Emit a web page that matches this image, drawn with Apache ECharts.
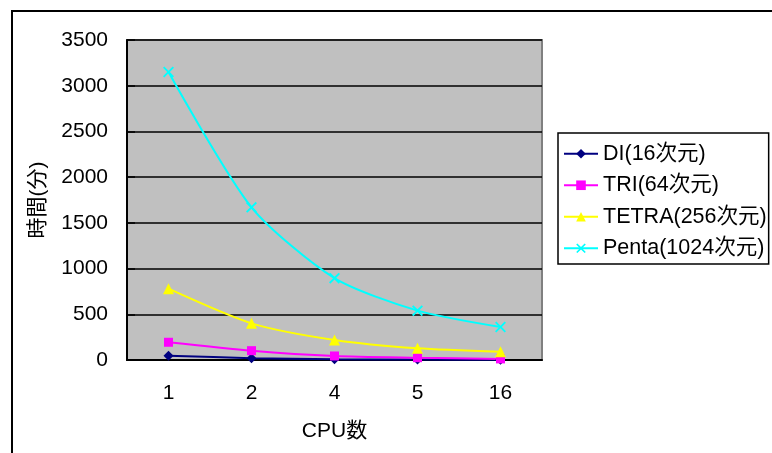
<!DOCTYPE html>
<html>
<head>
<meta charset="utf-8">
<script src="https://cdn.jsdelivr.net/npm/echarts@6/dist/echarts.min.js"></script>
<style>
html,body{margin:0;padding:0;background:#fff;}
#c{width:772px;height:453px;}
</style>
</head>
<body>
<div id="c"></div>
<script>
const categories = ['1', '2', '4', '5', '16'];
const seriesNames = ['DI(16次元)', 'TRI(64次元)', 'TETRA(256次元)', 'Penta(1024次元)'];
const diValues = [47, 20, 8, 5, 3];
const triValues = [194, 102, 44, 25, 12];
const tetraValues = [780, 401, 219, 128, 91];
const pentaValues = [3150, 1670, 895, 540, 361];
const yTicks = { min: 0, max: 3500, interval: 500 };

const FONT = '"Liberation Sans", Arial, "Noto Sans CJK JP", sans-serif';
const X_PATH = 'path://M0,1.2L1.2,0L5,3.8L8.8,0L10,1.2L6.2,5L10,8.8L8.8,10L5,6.2L1.2,10L0,8.8L3.8,5Z';

const chart = echarts.init(document.getElementById('c'), null, { renderer: 'canvas' });

function mk(name, data, color, symbol, size) {
  return {
    name: name,
    type: 'line',
    data: data,
    smooth: 0.25,
    symbol: symbol,
    symbolSize: size,
    showSymbol: true,
    lineStyle: { color: color, width: 2 },
    itemStyle: { color: color },
    emphasis: { disabled: true },
    animation: false
  };
}

chart.setOption({
  backgroundColor: '#ffffff',
  animation: false,
  textStyle: { fontFamily: FONT },
  graphic: [{
    type: 'rect',
    z: -10,
    shape: { x: 12, y: 11, width: 800, height: 500 },
    style: { fill: 'none', stroke: '#000', lineWidth: 2 }
  }],
  grid: {
    left: 127, top: 40, width: 415, height: 320,
    show: true,
    backgroundColor: '#C0C0C0',
    borderColor: '#808080',
    borderWidth: 2
  },
  legend: {
    orient: 'vertical',
    left: 558, top: 133,
    padding: [10, 2, 5, 5],
    itemWidth: 34, itemHeight: 12,
    itemGap: 10,
    borderColor: '#000', borderWidth: 1.5,
    backgroundColor: '#fff',
    textStyle: { fontSize: 21.5, color: '#000', fontFamily: FONT },
    data: seriesNames
  },
  xAxis: {
    type: 'category',
    data: categories,
    boundaryGap: true,
    name: 'CPU数',
    nameLocation: 'middle',
    nameGap: 61,
    nameTextStyle: { fontSize: 21, color: '#000', fontFamily: FONT },
    axisLine: { lineStyle: { color: '#000', width: 2 } },
    axisTick: { inside: true, length: 7, lineStyle: { color: '#000', width: 1.5 } },
    axisLabel: { fontSize: 21, color: '#000', margin: 23, fontFamily: FONT },
    splitLine: { show: false }
  },
  yAxis: {
    type: 'value',
    min: yTicks.min, max: yTicks.max, interval: yTicks.interval,
    name: '時間(分)',
    nameLocation: 'middle',
    nameRotate: 90,
    nameGap: 78,
    nameTextStyle: { fontSize: 21, color: '#000', fontFamily: FONT },
    axisLine: { show: true, lineStyle: { color: '#000', width: 2 } },
    axisTick: { show: true, inside: true, length: 8, lineStyle: { color: '#000', width: 1.5 } },
    axisLabel: { fontSize: 21, color: '#000', margin: 19, fontFamily: FONT, formatter: function (v) { return String(v); } },
    splitLine: { show: true, lineStyle: { color: '#000', width: 1.5 } }
  },
  series: [
    mk(seriesNames[0], diValues, '#000080', 'diamond', 10),
    mk(seriesNames[1], triValues, '#FF00FF', 'rect', 9),
    mk(seriesNames[2], tetraValues, '#FFFF00', 'triangle', 11),
    mk(seriesNames[3], pentaValues, '#00FFFF', X_PATH, 11)
  ]
});
</script>
</body>
</html>
